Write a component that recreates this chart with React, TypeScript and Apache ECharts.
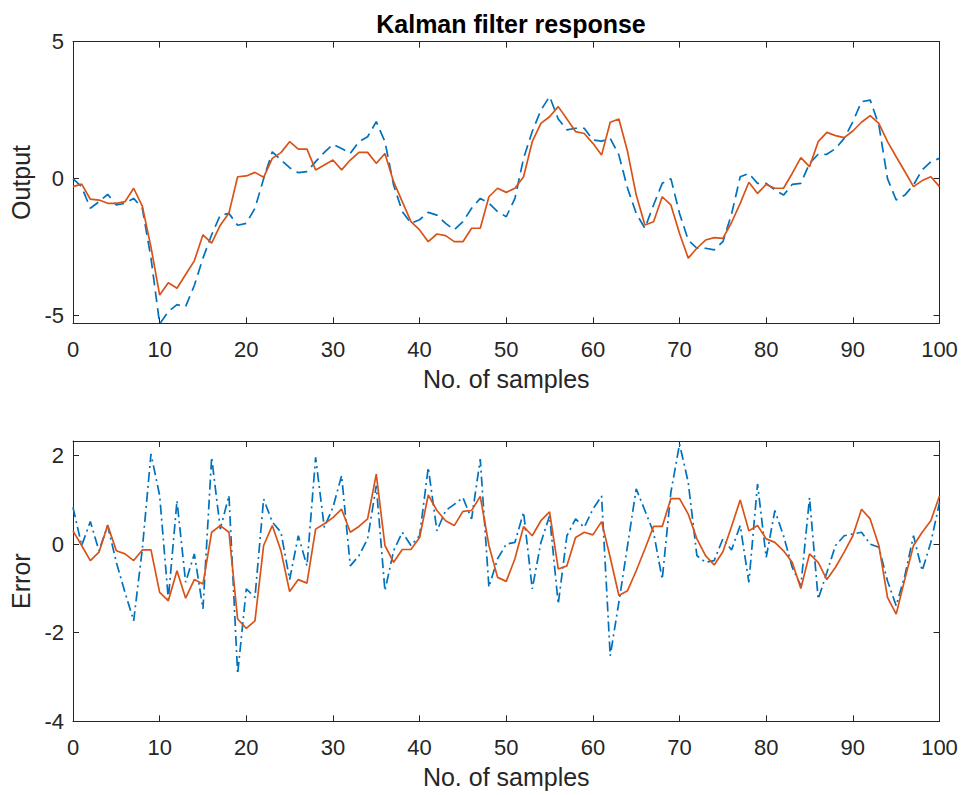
import React, { useEffect, useRef } from "react";
import * as echarts from "echarts";

const samples: number[] = Array.from({ length: 101 }, (_, i) => i);

const outputTrue: number[] = [
  0.0, -0.3, -1.08, -0.84, -0.57, -0.96, -0.9, -0.72, -1.08, -2.9,
  -5.3, -4.85, -4.6, -4.67, -3.9, -2.9, -2.05, -1.33, -1.27, -1.7,
  -1.63, -1.08, 0.0, 0.98, 0.68, 0.4, 0.22, 0.26, 0.62, 0.96,
  1.25, 1.1, 0.92, 1.35, 1.53, 2.08, 1.35, -0.23, -1.2, -1.63,
  -1.5, -1.23, -1.33, -1.63, -1.87, -1.57, -1.08, -0.72, -0.9, -1.2,
  -1.39, -0.72, 0.74, 1.72, 2.5, 3.0, 2.18, 1.78, 1.84, 1.84,
  1.41, 1.37, 1.47, 0.86, -0.35, -1.27, -1.81, -0.96, -0.17, 0.0,
  -1.27, -2.24, -2.54, -2.54, -2.6, -2.3, -1.3, 0.07, 0.19, -0.17,
  -0.17, -0.41, -0.6, -0.21, -0.17, 0.56, 0.89, 0.89, 1.1, 1.47,
  2.08, 2.81, 2.87, 1.96, 0.0, -0.78, -0.6, -0.23, 0.32, 0.62,
  0.74,
];

const outputFiltered: number[] = [
  -0.29, -0.2, -0.75, -0.78, -0.9, -0.9, -0.84, -0.35, -1.0, -2.5,
  -4.25, -3.8, -4.0, -3.5, -3.0, -2.05, -2.35, -1.7, -1.25, 0.07,
  0.1, 0.23, 0.05, 0.74, 0.95, 1.35, 1.08, 1.08, 0.32, 0.5,
  0.68, 0.32, 0.68, 0.96, 0.96, 0.56, 0.92, -0.11, -0.84, -1.57,
  -1.87, -2.3, -2.02, -2.08, -2.3, -2.3, -1.81, -1.81, -0.66, -0.35,
  -0.5, -0.35, 0.07, 1.35, 2.02, 2.26, 2.63, 2.18, 1.72, 1.65,
  1.29, 0.86, 2.06, 2.18, 0.99, -0.6, -1.69, -1.57, -0.66, -0.96,
  -2.0, -2.9, -2.54, -2.24, -2.15, -2.18, -1.6, -0.9, -0.13, -0.54,
  -0.21, -0.35, -0.35, 0.19, 0.77, 0.44, 1.35, 1.69, 1.57, 1.5,
  1.74, 2.06, 2.3, 2.02, 1.35, 0.8, 0.26, -0.29, -0.07, 0.07,
  -0.29,
];

const errorMeasured: number[] = [
  0.83, -0.03, 0.51, -0.15, 0.42, -0.41, -1.09, -1.73, -0.11, 2.04,
  1.1, -1.24, 0.98, -0.86, -0.22, -1.46, 1.96, 0.34, 1.1, -2.93,
  -1.01, -1.2, 1.02, 0.5, 0.27, -0.8, 0.19, -0.49, 1.96, 0.38,
  0.83, 1.55, -0.49, -0.26, 0.12, 1.32, -1.05, -0.15, 0.27, -0.03,
  0.19, 1.73, 0.3, 0.76, 0.9, 1.05, 0.57, 1.92, -0.97, -0.33,
  0.0, 0.04, 0.72, -1.01, 0.04, 0.64, -1.35, 0.19, 0.57, 0.38,
  0.79, 1.09, -2.52, -1.31, -0.03, 1.25, 0.76, 0.27, -0.79, 1.17,
  2.26, 1.4, -0.26, -0.41, -0.37, 0.12, -0.13, 0.42, -0.86, 1.36,
  -0.3, 0.76, 0.19, -0.52, -0.94, 1.05, -1.24, -0.64, -0.03, 0.19,
  0.23, 0.27, 0.0, -0.07, -0.83, -1.39, -0.71, 0.19, -0.6, 0.04,
  0.94,
];

const errorFiltered: number[] = [
  0.3, -0.03, -0.37, -0.18, 0.43, -0.15, -0.22, -0.37, -0.13, -0.13,
  -1.09, -1.28, -0.6, -1.22, -0.8, -0.9, 0.27, 0.42, 0.27, -1.69,
  -1.9, -1.73, -0.03, 0.42, -0.15, -1.07, -0.8, -0.88, 0.34, 0.46,
  0.6, 0.79, 0.27, 0.4, 0.57, 1.58, -0.03, -0.41, -0.12, -0.12,
  0.15, 1.11, 0.76, 0.53, 0.42, 0.74, 0.76, 1.08, -0.03, -0.75,
  -0.84, -0.33, 0.4, 0.19, 0.53, 0.73, -0.56, -0.49, 0.15, 0.27,
  0.21, 0.51, -0.3, -1.16, -1.05, -0.6, -0.11, 0.4, 0.4, 1.03,
  1.03, 0.68, 0.12, -0.26, -0.47, -0.17, 0.4, 1.0, 0.3, 0.42,
  0.12, 0.04, -0.15, -0.41, -1.0, -0.22, -0.41, -0.8, -0.52, -0.18,
  0.19, 0.79, 0.57, -0.03, -1.2, -1.58, -0.79, -0.03, 0.27, 0.53,
  1.09,
];

const outputTicks: number[] = [-5, 0, 5];
const errorTicks: number[] = [-4, -2, 0, 2];

const TITLE = "Kalman filter response";
const XLABEL = "No. of samples";
const YLABEL_TOP = "Output";
const YLABEL_BOTTOM = "Error";

const AX = "#262626";
const FONT = "'Liberation Sans', Arial, Helvetica, sans-serif";
const BLUE = "#0072BD";
const ORANGE = "#D95319";

function pairs(vals: number[]): number[][] {
  return samples.map((s, i) => [s, vals[i]]);
}

export default function App() {
  const ref = useRef<HTMLDivElement>(null);

  useEffect(() => {
    if (!ref.current) return;
    const chart = echarts.init(ref.current, undefined, { renderer: "svg" });

    const axisLine = { show: true, onZero: false, lineStyle: { color: AX, width: 1 } };
    const tick = { show: true, inside: true, length: 6, lineStyle: { color: AX, width: 1 } };

    const xMain = (gridIndex: number) => ({
      type: "value",
      gridIndex,
      min: 0,
      max: 100,
      interval: 10,
      position: "bottom",
      axisLine,
      axisTick: tick,
      splitLine: { show: false },
      axisLabel: { color: AX, fontSize: 22, fontFamily: FONT, margin: 15 },
      name: XLABEL,
      nameLocation: "middle",
      nameGap: 43,
      nameTextStyle: { color: AX, fontSize: 25, fontFamily: FONT },
    });
    const xMirror = (gridIndex: number) => ({
      type: "value",
      gridIndex,
      min: 0,
      max: 100,
      interval: 10,
      position: "top",
      axisLine,
      axisTick: tick,
      splitLine: { show: false },
      axisLabel: { show: false },
    });
    const yMain = (gridIndex: number, min: number, max: number, ticks: number[], name: string) => ({
      type: "value",
      gridIndex,
      min,
      max,
      position: "left",
      axisLine,
      axisTick: { ...tick, customValues: ticks },
      splitLine: { show: false },
      axisLabel: { color: AX, fontSize: 22, fontFamily: FONT, margin: 9, customValues: ticks },
      name,
      nameLocation: "middle",
      nameGap: 38,
      nameTextStyle: { color: AX, fontSize: 25, fontFamily: FONT },
    });
    const yMirror = (gridIndex: number, min: number, max: number, ticks: number[]) => ({
      type: "value",
      gridIndex,
      min,
      max,
      position: "right",
      axisLine,
      axisTick: { ...tick, customValues: ticks },
      splitLine: { show: false },
      axisLabel: { show: false, customValues: ticks },
    });

    chart.setOption({
      animation: false,
      backgroundColor: "#ffffff",
      title: {
        text: TITLE,
        left: 506,
        top: 6,
        textAlign: "center",
        textStyle: { color: "#000", fontSize: 25, fontWeight: "bold", fontFamily: FONT },
      },
      grid: [
        { left: 73, right: 21.5, top: 41.7, height: 281.6 },
        { left: 73, right: 21.5, top: 441, height: 280.3 },
      ],
      xAxis: [xMain(0), xMirror(0), xMain(1), xMirror(1)],
      yAxis: [
        yMain(0, -5.28, 5, outputTicks, YLABEL_TOP),
        yMirror(0, -5.28, 5, outputTicks),
        yMain(1, -4, 2.33, errorTicks, YLABEL_BOTTOM),
        yMirror(1, -4, 2.33, errorTicks),
      ],
      series: [
        {
          type: "line",
          xAxisIndex: 0,
          yAxisIndex: 0,
          data: pairs(outputTrue),
          showSymbol: false,
          symbol: "none",
          lineStyle: { color: BLUE, width: 1.7, type: [11, 6] },
          itemStyle: { color: BLUE },
          clip: true,
        },
        {
          type: "line",
          xAxisIndex: 0,
          yAxisIndex: 0,
          data: pairs(outputFiltered),
          showSymbol: false,
          symbol: "none",
          lineStyle: { color: ORANGE, width: 1.7 },
          itemStyle: { color: ORANGE },
          clip: true,
        },
        {
          type: "line",
          xAxisIndex: 2,
          yAxisIndex: 2,
          data: pairs(errorMeasured),
          showSymbol: false,
          symbol: "none",
          lineStyle: { color: BLUE, width: 1.7, type: [10, 4, 2, 4] },
          itemStyle: { color: BLUE },
          clip: true,
        },
        {
          type: "line",
          xAxisIndex: 2,
          yAxisIndex: 2,
          data: pairs(errorFiltered),
          showSymbol: false,
          symbol: "none",
          lineStyle: { color: ORANGE, width: 1.7 },
          itemStyle: { color: ORANGE },
          clip: true,
        },
      ],
    });

    return () => chart.dispose();
  }, []);

  return (
    <div
      ref={ref}
      style={{ position: "fixed", left: 0, top: 0, width: 961, height: 795, background: "#fff" }}
    />
  );
}
